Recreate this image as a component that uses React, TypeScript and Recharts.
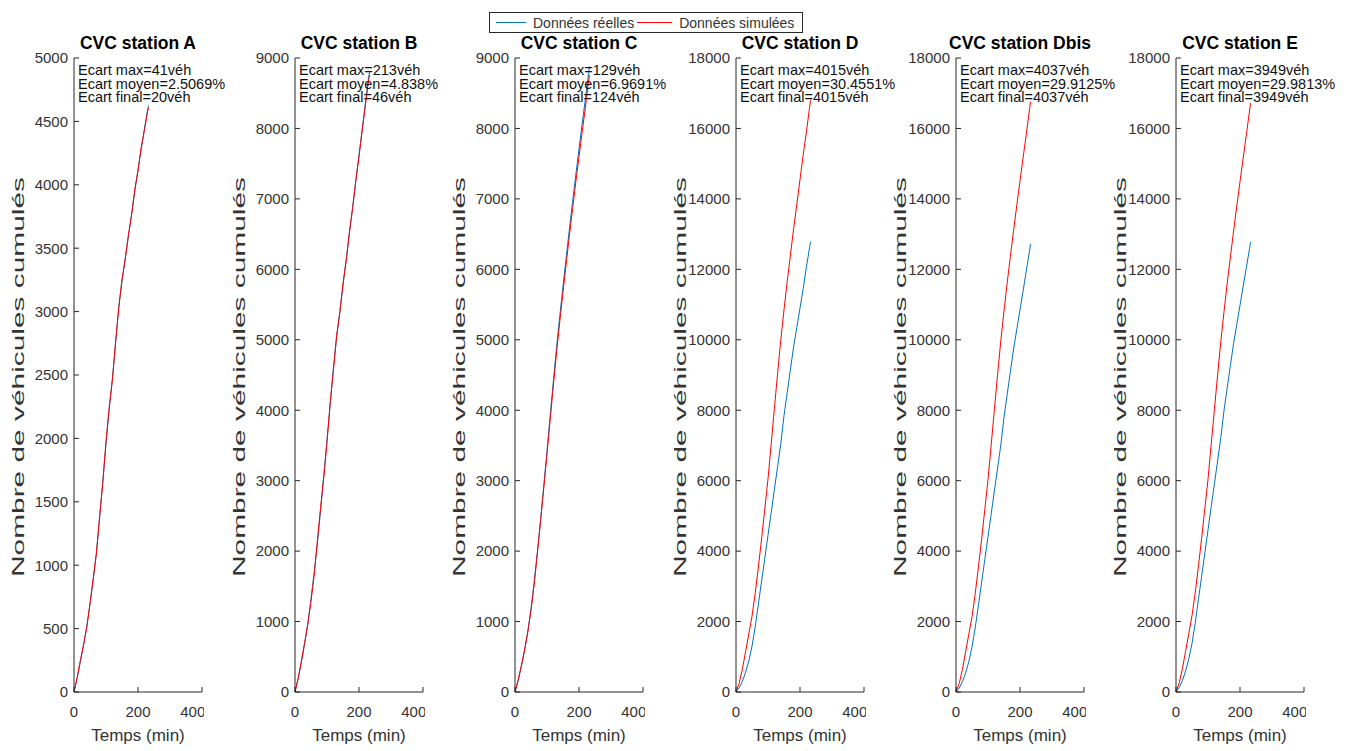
import { Line, LineChart, XAxis, YAxis } from "recharts";

const times = [0, 10, 20, 30, 40, 50, 60, 70, 80, 90, 100, 110, 120, 130, 140, 150, 160, 170, 180, 190, 200, 210, 220, 230, 233];

const realA = [0, 110, 240, 370, 520, 690, 880, 1100, 1370, 1660, 1960, 2230, 2470, 2750, 3040, 3240, 3420, 3590, 3770, 3950, 4120, 4280, 4440, 4590, 4625];
const simA = [0, 115, 250, 375, 510, 700, 895, 1090, 1385, 1650, 1975, 2245, 2460, 2765, 3030, 3255, 3410, 3605, 3760, 3965, 4110, 4295, 4430, 4580, 4605];
const realB = [0, 190, 420, 680, 970, 1320, 1700, 2110, 2580, 3080, 3580, 4080, 4600, 5030, 5400, 5770, 6140, 6510, 6880, 7250, 7620, 7990, 8350, 8720, 8800];
const simB = [0, 200, 440, 700, 960, 1290, 1660, 2150, 2620, 3050, 3540, 4110, 4560, 5060, 5380, 5800, 6120, 6530, 6860, 7260, 7600, 7970, 8330, 8690, 8754];
const realC = [0, 160, 360, 590, 860, 1180, 1560, 1990, 2450, 2930, 3420, 3920, 4420, 4900, 5340, 5760, 6170, 6570, 6960, 7340, 7710, 8070, 8420, 8780, 8880];
const simC = [0, 175, 380, 600, 850, 1160, 1530, 1970, 2430, 2900, 3380, 3870, 4360, 4830, 5260, 5680, 6080, 6480, 6860, 7240, 7600, 7950, 8300, 8670, 8756];
const realD = [0, 120, 300, 560, 880, 1300, 1850, 2500, 3150, 3800, 4450, 5100, 5750, 6400, 7050, 7850, 8500, 9150, 9800, 10350, 10900, 11450, 12070, 12620, 12785];
const simD = [0, 250, 650, 1150, 1650, 2150, 2800, 3550, 4350, 5200, 6050, 7050, 8050, 9050, 10000, 10850, 11650, 12400, 13150, 13850, 14550, 15250, 15900, 16600, 16800];
const realDbis = [0, 110, 290, 540, 860, 1280, 1820, 2460, 3110, 3760, 4410, 5060, 5710, 6360, 7010, 7800, 8450, 9100, 9740, 10300, 10850, 11400, 11980, 12540, 12720];
const simDbis = [0, 240, 640, 1140, 1640, 2140, 2790, 3540, 4330, 5180, 6030, 7020, 8020, 9020, 9970, 10820, 11620, 12370, 13110, 13820, 14510, 15190, 15860, 16560, 16757];
const realE = [0, 130, 320, 600, 940, 1380, 1950, 2620, 3280, 3940, 4600, 5260, 5910, 6560, 7220, 7990, 8630, 9270, 9900, 10440, 10980, 11520, 12060, 12600, 12771];
const simE = [0, 260, 660, 1160, 1660, 2170, 2810, 3560, 4360, 5200, 6040, 7030, 8020, 9000, 9950, 10800, 11600, 12350, 13090, 13800, 14490, 15160, 15830, 16520, 16720];

const yTicks5000 = [0, 500, 1000, 1500, 2000, 2500, 3000, 3500, 4000, 4500, 5000];
const yTicks9000 = [0, 1000, 2000, 3000, 4000, 5000, 6000, 7000, 8000, 9000];
const yTicks18000 = [0, 2000, 4000, 6000, 8000, 10000, 12000, 14000, 16000, 18000];
const xTicks = [0, 200, 400];

const titles = ["CVC station A", "CVC station B", "CVC station C", "CVC station D", "CVC station Dbis", "CVC station E"];
const ecartMax = ["41véh", "213véh", "129véh", "4015véh", "4037véh", "3949véh"];
const ecartMoyen = ["2.5069%", "4.838%", "6.9691%", "30.4551%", "29.9125%", "29.9813%"];
const ecartFinal = ["20véh", "46véh", "124véh", "4015véh", "4037véh", "3949véh"];

const reals = [realA, realB, realC, realD, realDbis, realE];
const sims = [simA, simB, simC, simD, simDbis, simE];
const yTicks = [yTicks5000, yTicks9000, yTicks9000, yTicks18000, yTicks18000, yTicks18000];

// layout
const axisLefts = [74, 295, 515, 736, 956, 1176];
const PLOT_W = 128;
const PLOT_TOP = 58;
const PLOT_BOTTOM = 692;
const Y_AXIS_W = 90;
const FONT = '"Liberation Sans", Arial, sans-serif';
const AXIS = "#262626";
const BLUE = "#0072BD";
const RED = "#FF0000";

function YLabel(props: any) {
  const { x, y, width, height } = props.viewBox;
  const cx = x + width - 56;
  const cy = y + height / 2 + 2;
  return (
    <text
      x={cx}
      y={cy}
      transform={`rotate(-90 ${cx} ${cy})`}
      textAnchor="middle"
      dominantBaseline="central"
      fontSize={17}
      textLength={400}
      lengthAdjust="spacingAndGlyphs"
      fontFamily={FONT}
      fill="#333"
    >
      Nombre de véhicules cumulés
    </text>
  );
}

function Station({ i }: { i: number }) {
  const data = times.map((t, k) => ({ t, real: reals[i][k], sim: sims[i][k] }));
  const ticks = yTicks[i];
  const axisX = axisLefts[i];
  return (
    <>
      <div style={{ position: "absolute", left: axisX - Y_AXIS_W, top: 0 }}>
        <LineChart
          width={Y_AXIS_W + PLOT_W + 2}
          height={751}
          data={data}
          margin={{ top: PLOT_TOP, right: 2, bottom: 0, left: 0 }}
        >
          <XAxis
            dataKey="t"
            type="number"
            domain={[0, 400]}
            ticks={xTicks}
            height={751 - PLOT_BOTTOM}
            tickSize={-5}
            tickMargin={19}
            stroke={AXIS}
            tick={{ fill: "#333", fontSize: 15, fontFamily: FONT }}
            label={{ value: "Temps (min)", position: "insideBottom", offset: 10, fill: "#333", fontSize: 17, fontFamily: FONT }}
          />
          <YAxis
            type="number"
            domain={[0, ticks[ticks.length - 1]]}
            ticks={ticks}
            width={Y_AXIS_W}
            tickSize={-5}
            tickMargin={11}
            stroke={AXIS}
            tick={{ fill: "#333", fontSize: 15, fontFamily: FONT }}
            label={{ content: YLabel }}
          />
          <Line dataKey="real" type="linear" stroke={BLUE} strokeWidth={1} dot={false} isAnimationActive={false} />
          <Line dataKey="sim" type="linear" stroke={RED} strokeWidth={1} dot={false} isAnimationActive={false} />
        </LineChart>
      </div>
      <div
        style={{
          position: "absolute",
          left: axisX - 40,
          width: PLOT_W + 80,
          top: 33,
          lineHeight: "20px",
          textAlign: "center",
          fontFamily: FONT,
          fontWeight: "bold",
          fontSize: 17.5,
          color: "#000",
          whiteSpace: "nowrap",
        }}
      >
        {titles[i]}
      </div>
      <div
        style={{
          position: "absolute",
          left: axisX + 4,
          top: 64,
          lineHeight: "13.6px",
          fontFamily: FONT,
          fontSize: 14.5,
          color: "#111",
          whiteSpace: "nowrap",
        }}
      >
        <div>Ecart max={ecartMax[i]}</div>
        <div>Ecart moyen={ecartMoyen[i]}</div>
        <div>Ecart final={ecartFinal[i]}</div>
      </div>
    </>
  );
}

function LegendBox() {
  const sample = (color: string, w: number) => (
    <span style={{ display: "inline-block", width: w, height: 1, background: color, verticalAlign: "middle" }} />
  );
  return (
    <div
      style={{
        position: "absolute",
        left: 489,
        top: 12,
        width: 312,
        height: 19,
        border: `1px solid ${AXIS}`,
        background: "#fff",
        display: "flex",
        alignItems: "center",
        fontFamily: FONT,
        fontSize: 14,
        color: "#333",
        whiteSpace: "nowrap",
      }}
    >
      <span style={{ width: 6 }} />
      {sample(BLUE, 30)}
      <span style={{ marginLeft: 7 }}>Données réelles</span>
      <span style={{ width: 3 }} />
      {sample(RED, 35)}
      <span style={{ marginLeft: 7 }}>Données simulées</span>
    </div>
  );
}

export default function App() {
  return (
    <div style={{ position: "absolute", left: 0, top: 0, width: 1367, height: 751, background: "#fff", overflow: "hidden" }}>
      {titles.map((_, i) => (
        <Station key={i} i={i} />
      ))}
      <LegendBox />
    </div>
  );
}
